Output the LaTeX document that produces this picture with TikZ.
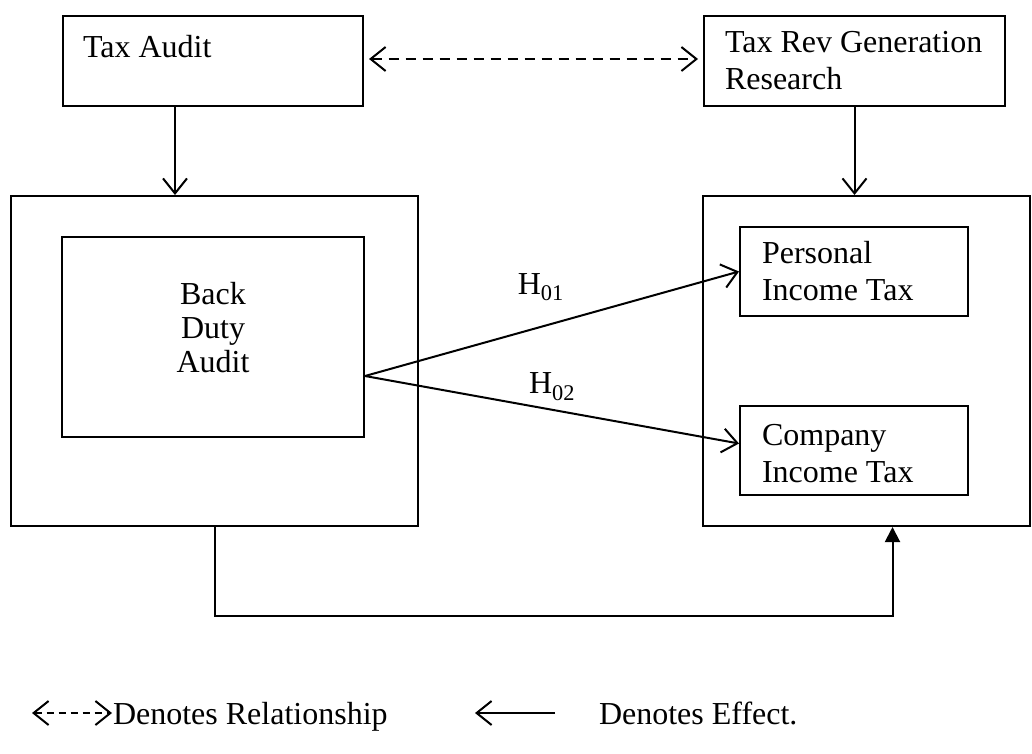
\documentclass[tikz,border=0pt]{standalone}
\usepackage{fontspec}
\setmainfont{Liberation Serif}
\usetikzlibrary{arrows.meta}
\begin{document}
\begin{tikzpicture}[x=1pt, y=-1pt, line width=2pt,
	font=\fontsize{32}{37}\selectfont,
	box/.style={draw, inner sep=0pt},
	words/.style={inner sep=0pt, align=left},
	effect/.style={-{Straight Barb[length=15pt,width=24pt]}},
	relation/.style={{Straight Barb[length=15pt,width=24pt]}-{Straight Barb[length=15pt,width=24pt]}, dash pattern=on 10pt off 7pt}]
	\useasboundingbox (0,0) rectangle (1032,753);
	\node[box, minimum width=300pt, minimum height=90pt] (taxaudit) at (213,61) {};
	\node[words, anchor=base west] (taxaudittext) at (82,57) {Tax Audit};
	\node[box, minimum width=301pt, minimum height=90pt] (taxrev) at (854.5,61) {};
	\node[words, anchor=west] (taxrevtext) at ([xshift=21pt]taxrev.west) {Tax Rev Generation\\Research};
	\node[box, minimum width=407pt, minimum height=330pt] (leftbox) at (214.5,361) {};
	\node[box, minimum width=302pt, minimum height=200pt] (backduty) at (213,337) {};
	\node[inner sep=0pt, align=center, font=\fontsize{32}{34}\selectfont] (backdutytext) at (213,328) {Back\\Duty\\Audit};
	\node[box, minimum width=327pt, minimum height=330pt] (rightbox) at (866.5,361) {};
	\node[box, minimum width=228pt, minimum height=89pt] (personal) at (854,271.5) {};
	\node[words, anchor=west] (personaltext) at ([xshift=22pt]personal.west) {Personal\\Income Tax};
	\node[box, minimum width=228pt, minimum height=89pt] (company) at (854,450.5) {};
	\node[words, anchor=west] (companytext) at ([xshift=22pt,yshift=-3pt]company.west) {Company\\Income Tax};
	\draw[relation] ([xshift=5pt,yshift=2pt]taxaudit.east) -- ([xshift=-5pt,yshift=2pt]taxrev.west);
	\draw[effect] ([xshift=-38pt]taxaudit.south) -- ([xshift=-38pt]taxaudit.south |- leftbox.north);
	\draw[effect] (taxrev.south) -- (taxrev.south |- rightbox.north);
	\coordinate (split) at ([yshift=-39pt]backduty.east);
	\draw[effect] (split) -- (personal.west) node[pos=0.47, above=22pt] (h01) {H\textsubscript{01}};
	\draw[effect] (split) -- ([yshift=7pt]company.west) node[pos=0.5, above=5pt] (h02) {H\textsubscript{02}};
	\draw[-{Triangle[length=15pt,width=15pt]}] (leftbox.south) -- ++(0,89) -| ([xshift=26pt]rightbox.south);
	\node[words, anchor=base west] (relnote) at (112,724) {Denotes Relationship};
	\coordinate (relstart) at (32,713);
	\draw[relation, dash pattern=on 7pt off 5pt] (relstart) -- (relnote.west |- relstart);
	\node[words, anchor=base west] (effnote) at (598,724) {Denotes Effect.};
	\coordinate (effstart) at (555,713);
	\coordinate (effend) at (475,713);
	\draw[effect] (effstart) -- (effend);
\end{tikzpicture}
\end{document}
